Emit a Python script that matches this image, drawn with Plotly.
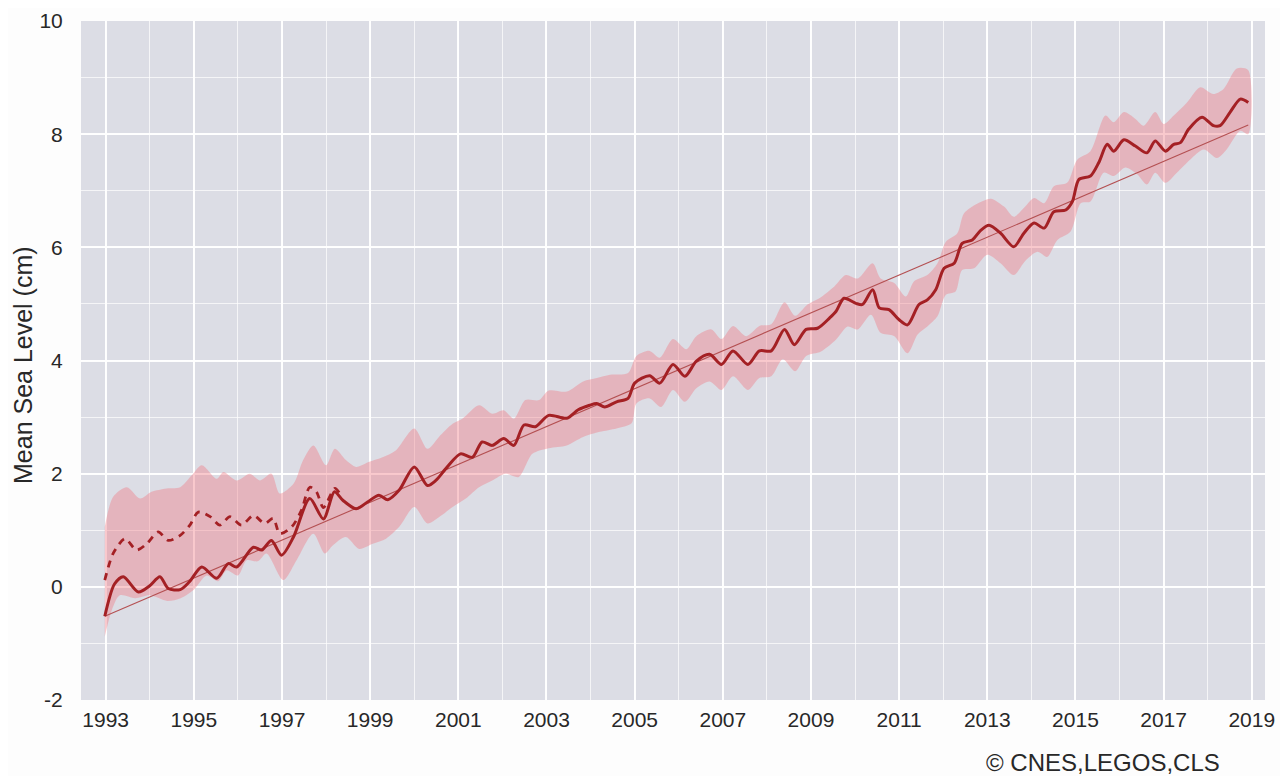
import plotly.graph_objects as go

# ---- data ----
main_x = [1992.98, 1993.2, 1993.4, 1993.74, 1994.0, 1994.23, 1994.42, 1994.69, 1994.9, 1995.18, 1995.52,
          1995.78, 1995.97, 1996.35, 1996.54, 1996.76, 1996.99, 1997.26, 1997.63, 1997.94, 1998.19, 1998.38,
          1998.68, 1998.94, 1999.2, 1999.4, 1999.66, 2000.0, 2000.3, 2000.49, 2000.75, 2001.05, 2001.32,
          2001.54, 2001.77, 2002.03, 2002.26, 2002.49, 2002.75, 2003.05, 2003.46, 2003.72, 2003.98, 2004.14,
          2004.32, 2004.59, 2004.85, 2005.0, 2005.34, 2005.57, 2005.87, 2006.14, 2006.4, 2006.7, 2006.97,
          2007.23, 2007.57, 2007.83, 2008.1, 2008.4, 2008.62, 2008.89, 2009.15, 2009.42, 2009.57, 2009.75,
          2010.02, 2010.17, 2010.4, 2010.55, 2010.77, 2011.0, 2011.19, 2011.45, 2011.64, 2011.83, 2012.02,
          2012.25, 2012.43, 2012.66, 2012.85, 2013.04, 2013.3, 2013.6, 2013.83, 2014.06, 2014.29, 2014.51,
          2014.78, 2014.93, 2015.08, 2015.34, 2015.53, 2015.72, 2015.87, 2016.1, 2016.36, 2016.62, 2016.81,
          2017.04, 2017.23, 2017.38, 2017.57, 2017.87, 2018.13, 2018.28, 2018.51, 2018.74, 2018.92]
main_y = [-0.52, 0.05, 0.18, -0.09, 0.02, 0.18, -0.03, -0.05, 0.09, 0.35, 0.15,
          0.41, 0.35, 0.70, 0.65, 0.82, 0.56, 0.88, 1.56, 1.20, 1.68, 1.53,
          1.38, 1.50, 1.62, 1.54, 1.71, 2.12, 1.79, 1.88, 2.12, 2.35, 2.29,
          2.56, 2.50, 2.62, 2.50, 2.86, 2.83, 3.03, 2.98, 3.13, 3.21, 3.24,
          3.18, 3.27, 3.33, 3.60, 3.73, 3.60, 3.93, 3.72, 3.99, 4.11, 3.93,
          4.17, 3.93, 4.17, 4.17, 4.55, 4.28, 4.55, 4.57, 4.75, 4.87, 5.10,
          5.01, 4.99, 5.25, 4.93, 4.90, 4.72, 4.63, 4.99, 5.07, 5.25, 5.63,
          5.72, 6.07, 6.13, 6.30, 6.39, 6.25, 6.01, 6.25, 6.43, 6.34, 6.63,
          6.66, 6.81, 7.20, 7.26, 7.50, 7.82, 7.70, 7.90, 7.79, 7.67, 7.88,
          7.70, 7.82, 7.85, 8.09, 8.30, 8.15, 8.15, 8.39, 8.62, 8.56]

topexa_x = [1992.98, 1993.17, 1993.44, 1993.7, 1993.93, 1994.19, 1994.42, 1994.69, 1994.91, 1995.1,
            1995.37, 1995.59, 1995.82, 1996.08, 1996.35, 1996.61, 1996.8, 1996.95, 1997.22, 1997.44,
            1997.63, 1997.78, 1997.94, 1998.2, 1998.35]
topexa_y = [0.12, 0.59, 0.85, 0.65, 0.76, 0.97, 0.82, 0.91, 1.09, 1.32,
            1.24, 1.09, 1.24, 1.09, 1.26, 1.12, 1.21, 0.94, 1.06, 1.35,
            1.76, 1.68, 1.40, 1.74, 1.60]

upper_x = [1992.98, 1993.17, 1993.48, 1993.78, 1994.04, 1994.38, 1994.69, 1994.95, 1995.18, 1995.52,
           1995.67, 1995.97, 1996.27, 1996.5, 1996.76, 1996.95, 1997.26, 1997.48, 1997.71, 1998.0,
           1998.2, 1998.45, 1998.68, 1998.98, 1999.28, 1999.58, 2000.0, 2000.3, 2000.56, 2000.87,
           2001.09, 2001.47, 2001.77, 2002.03, 2002.26, 2002.52, 2002.83, 2003.05, 2003.46, 2003.83,
           2004.14, 2004.44, 2004.85, 2005.04, 2005.34, 2005.57, 2005.87, 2006.17, 2006.4, 2006.74,
           2006.97, 2007.23, 2007.53, 2007.83, 2008.1, 2008.4, 2008.64, 2008.92, 2009.19, 2009.53,
           2009.79, 2010.06, 2010.4, 2010.58, 2010.89, 2011.15, 2011.34, 2011.64, 2011.87, 2012.06,
           2012.32, 2012.47, 2012.77, 2013.08, 2013.38, 2013.6, 2013.86, 2014.06, 2014.29, 2014.51,
           2014.81, 2015.04, 2015.34, 2015.68, 2015.87, 2016.1, 2016.36, 2016.55, 2016.81, 2017.0,
           2017.23, 2017.53, 2017.83, 2018.13, 2018.36, 2018.66, 2018.92]
upper_y = [1.06, 1.59, 1.76, 1.56, 1.68, 1.74, 1.76, 1.97, 2.15, 1.91,
           2.03, 1.88, 2.00, 1.88, 2.00, 1.65, 1.82, 2.24, 2.50, 2.15,
           2.44, 2.24, 2.12, 2.21, 2.29, 2.41, 2.80, 2.44, 2.65, 2.88,
           2.97, 3.21, 3.06, 3.12, 2.97, 3.30, 3.30, 3.47, 3.45, 3.63,
           3.69, 3.75, 3.78, 4.08, 4.17, 4.05, 4.38, 4.20, 4.43, 4.55,
           4.38, 4.61, 4.43, 4.61, 4.64, 5.03, 4.79, 4.99, 5.10, 5.31,
           5.51, 5.45, 5.72, 5.45, 5.37, 5.13, 5.40, 5.51, 5.72, 6.10,
           6.25, 6.60, 6.77, 6.86, 6.72, 6.54, 6.72, 6.87, 6.78, 7.08,
           7.14, 7.55, 7.70, 8.33, 8.21, 8.39, 8.27, 8.15, 8.39, 8.18,
           8.33, 8.56, 8.83, 8.71, 8.80, 9.16, 9.13]

lower_x = [1992.98, 1993.14, 1993.32, 1993.67, 1994.0, 1994.4, 1994.7, 1995.0, 1995.29, 1995.55,
           1995.74, 1996.0, 1996.2, 1996.45, 1996.65, 1997.03, 1997.33, 1997.71, 1997.97, 1998.15,
           1998.45, 1998.75, 1999.06, 1999.36, 1999.66, 2000.0, 2000.3, 2000.56, 2000.87, 2001.17,
           2001.47, 2001.77, 2002.07, 2002.37, 2002.68, 2003.05, 2003.46, 2003.83, 2004.21, 2004.59,
           2004.93, 2005.04, 2005.34, 2005.6, 2005.87, 2006.14, 2006.4, 2006.7, 2006.97, 2007.23,
           2007.57, 2007.83, 2008.1, 2008.36, 2008.64, 2008.89, 2009.23, 2009.57, 2009.83, 2010.06,
           2010.36, 2010.58, 2010.89, 2011.19, 2011.42, 2011.64, 2011.87, 2012.06, 2012.28, 2012.43,
           2012.7, 2013.0, 2013.3, 2013.6, 2013.86, 2014.14, 2014.36, 2014.59, 2014.89, 2015.12,
           2015.34, 2015.64, 2015.87, 2016.13, 2016.4, 2016.62, 2016.81, 2017.04, 2017.3, 2017.6,
           2017.91, 2018.21, 2018.43, 2018.74, 2018.92]
lower_y = [-0.88, -0.41, -0.15, -0.20, -0.15, -0.25, -0.20, -0.05, 0.20, 0.10,
           0.29, 0.20, 0.47, 0.45, 0.59, 0.12, 0.47, 0.94, 0.59, 0.73,
           0.88, 0.67, 0.76, 0.85, 1.06, 1.41, 1.12, 1.23, 1.41, 1.56,
           1.76, 1.88, 2.00, 1.94, 2.35, 2.45, 2.50, 2.65, 2.74, 2.80,
           2.89, 3.24, 3.33, 3.18, 3.48, 3.27, 3.51, 3.63, 3.48, 3.72,
           3.48, 3.69, 3.72, 4.02, 3.81, 4.08, 4.16, 4.37, 4.60, 4.55,
           4.81, 4.49, 4.43, 4.13, 4.46, 4.60, 4.78, 5.16, 5.22, 5.60,
           5.63, 5.87, 5.72, 5.51, 5.76, 5.92, 5.83, 6.13, 6.28, 6.78,
           6.81, 7.32, 7.26, 7.41, 7.29, 7.11, 7.32, 7.14, 7.32, 7.55,
           7.73, 7.58, 7.73, 8.06, 8.00]

trend_x = [1992.98, 2018.92]
trend_y = [-0.52, 8.16]

x_tick_vals = [1993, 1995, 1997, 1999, 2001, 2003, 2005, 2007, 2009, 2011, 2013, 2015, 2017, 2019]
y_tick_vals = [-2, 0, 2, 4, 6, 8, 10]

LINE = "rgb(164,32,36)"
FONT = "Liberation Sans, Arial, sans-serif"
TXT = "rgb(40,40,40)"

fig = go.Figure()

fig.add_trace(go.Scatter(
    x=upper_x + lower_x[::-1], y=upper_y + lower_y[::-1],
    mode="lines", fill="toself", fillcolor="rgba(240,120,130,0.40)",
    line=dict(width=0, shape="spline", smoothing=0.8), hoverinfo="skip", showlegend=False))

fig.add_trace(go.Scatter(
    x=trend_x, y=trend_y, mode="lines",
    line=dict(color="rgb(180,80,82)", width=1.1), showlegend=False))

fig.add_trace(go.Scatter(
    x=topexa_x, y=topexa_y, mode="lines",
    line=dict(color=LINE, width=2.8, dash="7px,6px", shape="spline", smoothing=0.8), showlegend=False))

fig.add_trace(go.Scatter(
    x=main_x, y=main_y, mode="lines",
    line=dict(color=LINE, width=3.0, shape="spline", smoothing=0.8), showlegend=False))

# page has an 8px body margin: figure 1280x768 placed at (8,8)
fig.add_annotation(
    text="© CNES,LEGOS,CLS", xref="paper", yref="paper", x=1.0, y=0.0,
    xanchor="right", yanchor="middle", xshift=-43, yshift=-62,
    showarrow=False, font=dict(family=FONT, size=24, color=TXT))

fig.add_annotation(
    text="Mean Sea Level (cm)", xref="paper", yref="paper", x=0.0, y=0.5,
    xanchor="center", yanchor="middle", xshift=-58.5, yshift=-5, textangle=-90,
    showarrow=False, font=dict(family=FONT, size=25, color=TXT))

fig.update_layout(
    width=1280, height=768,
    margin=dict(l=73, r=23, t=13, b=76, autoexpand=False),
    paper_bgcolor="#fdfdfd", plot_bgcolor="#dcdde5",
    font=dict(family=FONT, size=16, color=TXT),
    xaxis=dict(range=[1992.44, 2019.30], tickvals=x_tick_vals, ticktext=[str(v) for v in x_tick_vals],
               automargin=False,
               showgrid=True, gridcolor="rgba(255,255,255,0.95)", gridwidth=1.6,
               minor=dict(dtick=1, tick0=1993, showgrid=True, gridcolor="rgba(255,255,255,0.7)", gridwidth=0.9),
               zeroline=False, showline=False,
               ticks="outside", ticklen=1, tickcolor="rgba(0,0,0,0)",
               tickfont=dict(family=FONT, size=21, color=TXT)),
    yaxis=dict(range=[-2, 10], tickvals=y_tick_vals, ticktext=[str(v) for v in y_tick_vals],
               automargin=False,
               showgrid=True, gridcolor="rgba(255,255,255,0.95)", gridwidth=1.6,
               minor=dict(dtick=1, tick0=0, showgrid=True, gridcolor="rgba(255,255,255,0.7)", gridwidth=0.9),
               zeroline=False, showline=False,
               ticks="outside", ticklen=13, tickcolor="rgba(0,0,0,0)",
               tickfont=dict(family=FONT, size=21, color=TXT)),
)

fig.write_html("out.html")
